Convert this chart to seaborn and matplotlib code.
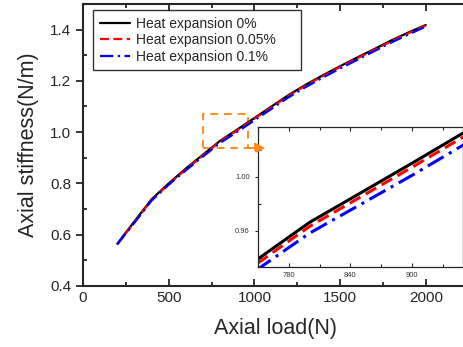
import numpy as np
import pandas as pd
import matplotlib
matplotlib.use('Agg')
import matplotlib.pyplot as plt
import seaborn as sns
from matplotlib.patches import Rectangle
from matplotlib.ticker import MultipleLocator, FormatStrFormatter

# data
load = [200, 300, 400, 500, 600, 700, 800, 900, 1000, 1100,
        1200, 1300, 1400, 1500, 1600, 1700, 1800, 1900, 2000]
stiff_0 = [0.565, 0.652, 0.738, 0.800, 0.858, 0.912, 0.966, 1.010, 1.055, 1.100,
           1.145, 1.185, 1.222, 1.257, 1.291, 1.324, 1.358, 1.389, 1.418]
stiff_005 = [0.563, 0.649, 0.735, 0.797, 0.855, 0.909, 0.963, 1.007, 1.052, 1.097,
             1.142, 1.182, 1.219, 1.254, 1.288, 1.321, 1.355, 1.386, 1.416]
stiff_01 = [0.562, 0.647, 0.733, 0.795, 0.851, 0.905, 0.958, 1.001, 1.046, 1.091,
            1.136, 1.176, 1.213, 1.248, 1.282, 1.316, 1.350, 1.381, 1.412]
labels = ['Heat expansion 0%', 'Heat expansion 0.05%', 'Heat expansion 0.1%']

sns.set_style('ticks')
plt.rcParams['font.family'] = ['Liberation Sans', 'DejaVu Sans']

fig = plt.figure(figsize=(4.64, 3.47), dpi=100)
ax = fig.add_axes([0.179, 0.176, 0.831, 0.8127])

series = [stiff_0, stiff_005, stiff_01]
colors = ['black', 'red', 'blue']
dashes = ['-', (0, (4, 2)), (0, (6, 2, 1, 2))]

for s, c, d, lab in zip(series, colors, dashes, labels):
    sns.lineplot(x=load, y=s, ax=ax, color=c, label=lab, lw=1.6)
    ax.lines[-1].set_linestyle(d)

ax.set_xlim(0, 2250)
ax.set_ylim(0.4, 1.5)
ax.xaxis.set_major_locator(MultipleLocator(500))
ax.xaxis.set_minor_locator(MultipleLocator(250))
ax.yaxis.set_major_locator(MultipleLocator(0.2))
ax.yaxis.set_minor_locator(MultipleLocator(0.1))
ax.yaxis.set_major_formatter(FormatStrFormatter('%.1f'))
ax.tick_params(axis='x', which='both', direction='in', top=True, labelsize=11, width=1.3)
ax.tick_params(axis='x', which='major', length=5, pad=4)
ax.tick_params(axis='x', which='minor', length=3)
ax.tick_params(axis='y', which='major', direction='out', length=5, labelsize=11, width=1.3)
ax.tick_params(axis='y', which='minor', direction='in', length=3, width=1.3)
for sp in ax.spines.values():
    sp.set_linewidth(1.5)
ax.set_xlabel('Axial load(N)', fontsize=15.5, labelpad=9)
ax.set_ylabel('Axial stiffness(N/m)', fontsize=15.5, labelpad=8)

leg = ax.legend(loc='upper left', bbox_to_anchor=(0.027, 0.977), fontsize=10,
                frameon=True, fancybox=False, handlelength=2.2, labelspacing=0.18,
                borderpad=0.45, handletextpad=0.4, borderaxespad=0)
leg.get_frame().set_edgecolor('black')
leg.get_frame().set_linewidth(1.0)
for t in leg.get_texts():
    t.set_text(t.get_text() + '     ')

orange = '#FF8C1A'
ax.add_patch(Rectangle((700, 0.938), 263, 0.132, fill=False, ec=orange, lw=1.4, ls=(0, (4, 3))))

# inset
ax_in = fig.add_axes([0.556, 0.2305, 0.442, 0.4035])
for s, c, d in zip(series, colors, dashes):
    sns.lineplot(x=load, y=s, ax=ax_in, color=c, lw=2.2, legend=False)
    ax_in.lines[-1].set_linestyle(d)
ax_in.set_xlim(750, 950)
ax_in.set_ylim(0.933, 1.037)
ax_in.xaxis.set_major_locator(plt.FixedLocator([780, 840, 900]))
ax_in.xaxis.set_minor_locator(plt.FixedLocator([750, 810, 870, 930]))
ax_in.yaxis.set_major_locator(plt.FixedLocator([0.96, 1.00]))
ax_in.yaxis.set_minor_locator(plt.FixedLocator([0.94, 0.98, 1.02]))
ax_in.yaxis.set_major_formatter(FormatStrFormatter('%.2f'))
ax_in.tick_params(which='both', labelsize=5.5, width=0.8, top=True, labelcolor='#333333')
ax_in.tick_params(axis='x', which='major', direction='in', length=3)
ax_in.tick_params(axis='x', which='minor', direction='in', length=2)
ax_in.tick_params(axis='y', which='major', direction='out', length=2.5)
ax_in.tick_params(axis='y', which='minor', direction='in', length=2)
ax_in.set_xlabel('')
ax_in.set_ylabel('')
for sp in ax_in.spines.values():
    sp.set_linewidth(0.9)

ax_in.annotate('', xy=(1065, 0.938), xytext=(963, 0.938),
               xycoords=ax.transData, textcoords=ax.transData, annotation_clip=False,
               arrowprops=dict(arrowstyle='-|>', color=orange, lw=1.4, ls='--',
                               mutation_scale=15, shrinkA=0, shrinkB=0))

fig.savefig('out.png', dpi=100)
